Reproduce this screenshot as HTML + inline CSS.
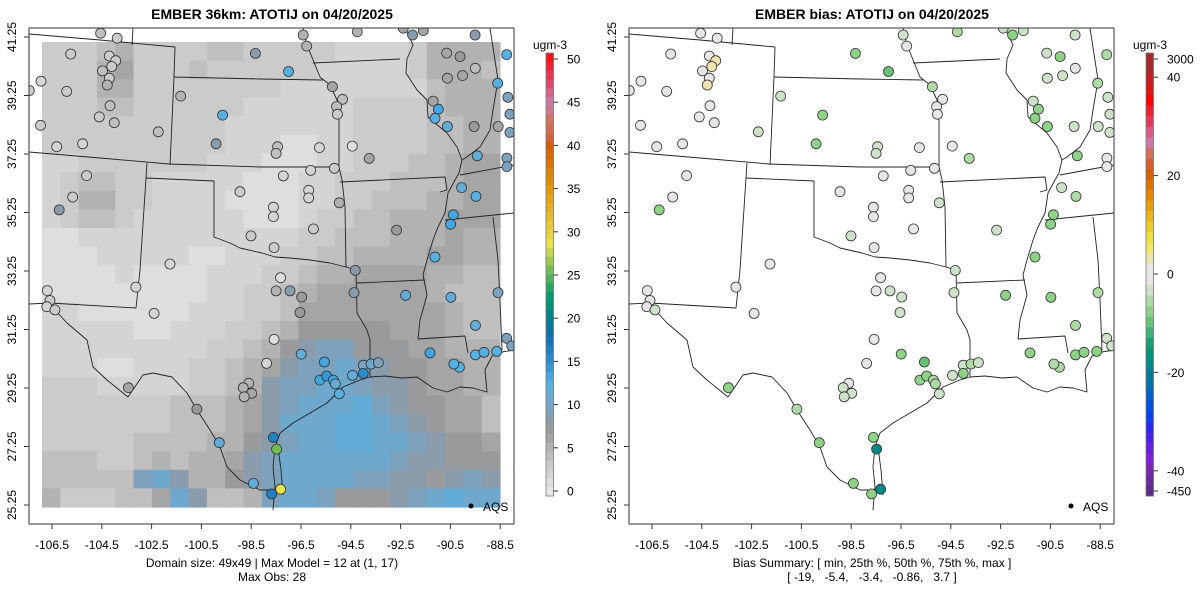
<!DOCTYPE html>
<html><head><meta charset="utf-8"><style>
html,body{margin:0;padding:0;background:#fff;}
svg{display:block;font-family:"Liberation Sans",Arial,sans-serif;}
</style></head><body>
<svg id="chart" width="1200" height="600" viewBox="0 0 1200 600" xmlns="http://www.w3.org/2000/svg">
<defs>
<clipPath id="clipL"><rect x="29" y="28" width="485" height="496"/></clipPath>
<clipPath id="clipR"><rect x="629" y="28" width="485" height="496"/></clipPath>
</defs>
</svg>
<script>
// ---------- DATA ----------
const latTicks = [25.25, 27.25, 29.25, 31.25, 33.25, 35.25, 37.25, 39.25, 41.25];
const lonTicks = [-106.5, -104.5, -102.5, -100.5, -98.5, -96.5, -94.5, -92.5, -90.5, -88.5];
const obsTickVals = [0, 5, 10, 15, 20, 25, 30, 35, 40, 45, 50];
const biasTickVals = [3000, 40, 20, 0, -20, -40, -450];
// model field (hex digit = ugm-3), coarse rows north->south
const modelGrid = [
"3334533334433333222235555",
"3335633343333332222235554",
"3335533333333222222224555",
"3334433333322222233334555",
"3333333333222222233334455",
"3333333333222112233334455",
"2233333332221112233344566",
"2344332222211122333444566",
"2355332222111122334445566",
"2344322222211123344555666",
"1122222222222233444555655",
"1112222211222334455556655",
"1111211112223345566665544",
"1111111112233456666665444",
"2211111122233466666666544",
"2222211222334577777666544",
"2222222223345789977766555",
"2221122233456899a98776655",
"333222223345899aa98876655",
"33333334445689aaab9877664",
"3333333444568aaabba987664",
"33333444455789aabbaa98776",
"4443345455689aaaaaa988777",
"444449a855789aaaa99887898",
"5333446a84459aa977789abaa"
];
const siteLon = [-104.55,-103.88,-105.75,-104.20,-103.94,-104.10,-104.47,-104.20,-104.28,-106.94,-107.41,-105.91,-104.17,-104.60,-104.00,-106.96,-102.23,-106.31,-105.27,-105.11,-105.67,-106.21,-106.69,-106.58,-106.71,-106.38,-103.13,-102.40,-101.76,-103.43,-100.68,-99.78,-98.41,-97.68,-97.32,-97.48,-97.61,-101.33,-99.65,-99.91,-98.33,-97.00,-97.44,-97.50,-95.76,-98.95,-97.21,-96.11,-96.19,-96.19,-97.61,-97.61,-98.51,-97.58,-96.00,-94.96,-95.16,-96.41,-96.27,-95.24,-94.83,-95.07,-95.04,-94.24,-92.39,-92.02,-91.59,-89.51,-90.65,-90.11,-88.24,-90.62,-90.01,-89.50,-88.60,-88.19,-91.19,-90.98,-91.12,-90.62,-89.55,-88.58,-88.11,-88.11,-94.44,-93.76,-89.42,-88.23,-88.23,-90.05,-89.47,-90.38,-90.49,-92.66,-94.32,-94.37,-92.30,-90.48,-88.59,-89.49,-91.12,-91.32,-90.14,-90.36,-89.49,-89.15,-88.64,-88.24,-88.04,-97.32,-97.50,-96.94,-96.47,-96.54,-97.58,-96.49,-95.56,-97.88,-98.60,-98.82,-98.48,-98.78,-94.00,-93.69,-93.39,-94.00,-94.43,-95.74,-95.47,-95.20,-95.12,-94.96];
const siteLat = [41.38,41.21,40.67,40.60,40.44,40.24,40.09,39.84,39.61,39.74,39.42,39.39,38.90,38.52,38.32,38.23,38.01,37.50,37.60,36.51,35.78,35.34,32.58,32.24,32.03,31.92,32.70,31.80,33.49,29.26,28.53,27.38,25.99,25.63,25.79,27.16,27.56,39.23,38.58,37.60,40.69,40.07,37.50,37.27,37.47,35.96,36.50,36.69,36.01,35.75,35.43,35.11,34.45,34.05,34.69,35.58,36.76,41.32,40.94,39.55,39.12,38.87,38.61,41.43,41.55,41.32,41.47,41.32,40.70,40.58,40.65,39.84,39.93,40.18,39.67,39.19,39.06,38.78,38.47,38.19,38.19,38.19,38.61,37.99,37.52,37.10,37.19,37.11,36.82,36.10,35.80,35.17,34.85,34.65,33.27,32.51,32.42,32.35,32.51,31.39,33.73,30.45,29.96,30.07,30.38,30.47,30.50,30.95,30.69,33.02,32.57,32.57,32.36,31.83,30.91,30.41,30.14,30.09,29.41,29.26,29.07,28.95,30.03,30.07,30.12,29.75,29.68,29.52,29.66,29.52,29.39,29.05];
const siteObs = [4,3,3,3,3,3,4,3,5,2,3,3,4,3,4,3,4,2,2,3,3,8,2,3,2,3,2,2,2,6,7,11,11,16,28,25,16,5,12,8,8,12,4,4,2,3,2,2,2,2,2,2,3,3,3,5,3,5,5,6,4,4,3,5,6,8,6,8,6,7,12,6,6,4,12,9,6,13,12,11,7,6,9,9,1,6,11,9,9,11,12,13,13,7,8,8,11,11,9,11,12,13,12,12,12,12,12,9,9,1,5,8,7,7,1,11,13,2,5,5,6,5,9,10,9,15,11,13,14,13,11,12];
const siteBias = [-0.5,-0.6,-0.4,-0.5,2.2,2.5,-0.5,2.0,3.7,-0.4,-0.5,-0.6,-0.5,-0.4,-0.5,-0.5,-2.4,-0.5,-0.6,-0.5,2.0,-7.0,-0.5,-0.6,-0.4,-2.6,-0.5,-0.4,-0.5,-7.2,-4.6,-7.5,-7.3,-7.0,-19,-19,-7.4,-2.5,-7.1,-7.2,-7.3,-10.5,-2.4,-2.6,-0.5,-0.6,-0.5,-0.4,-0.5,-0.5,-0.6,-0.5,-2.4,-0.5,-0.6,-2.5,-0.4,-2.4,-0.5,-4.6,-0.5,-0.6,-0.5,-4.5,-2.5,-7.0,-2.6,-2.5,-2.4,-7.1,-4.5,-2.5,-2.6,-0.5,-4.6,-2.4,-2.5,-7.2,-7.1,-7.0,-2.5,-2.4,-2.6,-2.5,-0.5,-4.6,-7.0,-0.5,-0.6,-2.5,-4.5,-7.1,-7.0,-2.4,-2.5,-2.6,-7.2,-7.3,-4.6,-4.5,-7.1,-7.5,-4.6,-4.4,-7.0,-7.1,-7.0,-2.5,-2.4,-0.5,-0.6,-2.5,-2.6,-2.4,-0.5,-7.3,-10.2,-0.6,-0.5,-2.4,-2.6,-2.5,-2.4,-4.6,-2.5,-7.2,-2.6,-7.0,-7.3,-4.5,-4.6,-2.5];

// ---------- SCALES ----------
const PX = [0, 600];
const xLon = lon => 52 + (lon + 106.5) * 24.9;
const yLat = lat => 505 - (lat - 25.25) * 29.25;
const cellX = j => 42 + j * 18.32;
const cellY = i => 42 + i * 18.6;
const obsBar = ['#e6e6e6','#dedede','#d4d4d4','#cbcbcb','#bfbfbf','#b2b2b2','#a5a5a5','#989a9c','#8a9cac','#7ca2bd','#6ea8cc','#62acd8','#56b0e2','#44a6e0','#3498d6','#2a8cce','#1f80c4','#1574b8','#0a72a4','#047a96','#008488','#008f7a','#009b6e','#22a862','#4cb45a','#72c054','#9ccb4e','#c8d84a','#ece444','#ecd43a','#eac832','#e9bc28','#e8b020','#e6a414','#e49a08','#e08e00','#dc8200','#da7600','#d86a00','#d66000','#d6623a','#d66c4c','#d2745e','#ce7890','#cc79a7','#d8608c','#e04870','#e83452','#f02030','#fa1010'];
const biasBar = ['#a52a2a','#a52a2a','#c81e1e','#dc1414','#ff0000','#f01e2d','#e6375a','#dc5a82','#cc79a7','#d4705a','#d65f2f','#d55e00','#dd7100','#e38800','#e69f00','#ebb51c','#eecc2e','#f0e040','#f0e866','#eee4b0','#e6e6e6','#e6e6e6','#cde2c9','#aedaa6','#8ed287','#66c277','#3fb278','#17a06f','#00957a','#008a86','#007a96','#0070b0','#0060c8','#0050e0','#0a3cf0','#2a28f0','#4a20e8','#6a20e0','#8020d8','#7a26b0','#6a2a9a','#5e2a88'];
const obsColor = v => obsBar[Math.max(0, Math.min(49, Math.round(v)))];
const obsTickY = v => 491 - v * 8.64;
const biasTickY = v => v > 40 ? 59 : (v < -40 ? 491 : 274 - v * 4.92);
function biasColor(v) {
  const y = biasTickY(v);
  const idx = Math.max(0, Math.min(biasBar.length - 1, Math.floor((y - 53) / (443 / biasBar.length))));
  return biasBar[idx];
}

// ---------- BORDERS (map geometry, left-panel pixels) ----------
const borders = [
 [[29,34],[100,40],[175,47]],[[133,28],[132,45]],[[175,47],[174,77],[170,165]],
 [[174,77],[260,79],[323,80]],[[29,152],[100,158],[169,164],[260,167],[339,167]],
 [[147,163],[146,178],[140,270],[136,308]],[[136,308],[50,303],[29,304]],
 [[146,178],[214,181],[214,237],[230,243],[240,248],[262,253],[275,257],[290,258],[310,260],[330,263],[346,267]],
 [[303,28],[307,45],[320,77],[330,85],[337,100],[339,117],[339,167],[342,180],[345,207],[346,267],[356,270],[357,313],[367,330],[370,340],[370,377]],
 [[313,63],[400,59]],
 [[405,28],[413,45],[407,59],[406,73],[417,90],[427,100],[428,117],[435,123],[447,133],[457,147],[462,160],[459,173],[455,180],[448,193],[445,213],[438,227],[433,240],[427,260],[423,275],[427,295],[420,320],[418,339]],
 [[357,283],[425,280]],[[418,339],[465,336],[468,353]],[[340,182],[445,177],[447,190],[440,192]],
 [[445,220],[514,213]],[[460,175],[514,165]],
 [[490,28],[498,80],[493,110],[490,130],[480,147],[467,157],[462,160]],
 [[493,217],[498,260],[500,300],[502,350]],
 [[370,377],[360,380],[343,387],[337,393],[327,403],[310,413],[293,423],[280,433],[275,447],[273,467],[275,487],[273,510]],
 [[278,447],[281,470],[283,495]],
 [[370,377],[385,376],[402,378],[417,377],[433,388],[447,392],[460,387],[473,388],[487,392],[485,370],[492,356],[502,352],[514,350]],
 [[50,303],[57,312],[67,323],[87,340],[93,367],[107,380],[128,397],[143,375],[153,373],[172,377],[187,393],[197,410],[210,430],[220,447],[227,467],[240,480],[260,490],[277,490]]
];

// ---------- DRAW ----------
const NS = 'http://www.w3.org/2000/svg';
const svg = document.getElementById('chart');
function mk(tag, attrs, parent) {
  const e = document.createElementNS(NS, tag);
  for (const k in attrs) e.setAttribute(k, attrs[k]);
  (parent || svg).appendChild(e);
  return e;
}
function txt(s, attrs, parent) { const t = mk('text', attrs, parent); t.textContent = s; return t; }

[0, 1].forEach(p => {
  const ox = PX[p];
  const panel = mk('g', {});
  
  

  const title = txt(p ? 'EMBER bias: ATOTIJ on 04/20/2025' : 'EMBER 36km: ATOTIJ on 04/20/2025',
    {x: 272 + ox, y: 19, 'text-anchor': 'middle', 'font-size': 14, 'font-weight': 'bold', fill: '#000'}, panel);
  
  

  const inner = mk('g', {'clip-path': p ? 'url(#clipR)' : 'url(#clipL)'}, panel);
  if (!p) {
    const grid = mk('g', {}, inner);
    
    
    modelGrid.forEach((row, i) => {
      for (let j = 0; j < row.length; j++) {
        const v = parseInt(row[j], 16);
        const c = mk('rect', {x: cellX(j).toFixed(2), y: cellY(i).toFixed(2), width: 18.9, height: 19.2, fill: obsColor(v)}, grid);
        
        
      }
    });
  }
  const bg = mk('g', {fill: 'none', stroke: '#222', 'stroke-width': 0.9, 'stroke-linejoin': 'round'}, inner);
  
  
  borders.forEach(b => {
    const l = mk('polyline', {points: b.map(q => (q[0] + ox) + ',' + q[1]).join(' ')}, bg);
    
    
  });
  const sites = mk('g', {}, inner);
  
  
  for (let k = 0; k < siteLon.length; k++) {
    const col = p ? biasColor(siteBias[k]) : obsColor(siteObs[k]);
    const d = mk('circle', {cx: (xLon(siteLon[k]) + ox).toFixed(1), cy: yLat(siteLat[k]).toFixed(1), r: 5, fill: col, stroke: '#333', 'stroke-width': 0.8}, sites);
    
    
  }
  const lg = mk('g', {}, panel);
  
  
  mk('circle', {cx: 471 + ox, cy: 506, r: 2.5, fill: '#000'}, lg);
  txt('AQS', {x: 483 + ox, y: 511, 'font-size': 12}, lg);

  const fr = mk('rect', {x: 29 + ox, y: 28, width: 485, height: 496, fill: 'none', stroke: '#333', 'stroke-width': 1}, panel);
  
  

  const ya = mk('g', {'font-size': 12, fill: '#000'}, panel);
  
  
  latTicks.forEach(t => {
    const y = yLat(t);
    mk('line', {x1: 24 + ox, x2: 29 + ox, y1: y, y2: y, stroke: '#333'}, ya);
    const lb = txt(t.toFixed(2), {x: 0, y: 0, 'text-anchor': 'middle', transform: `translate(${16 + ox},${y}) rotate(-90)`}, ya);
    
    
  });
  const xa = mk('g', {'font-size': 12, fill: '#000'}, panel);
  
  
  lonTicks.forEach(t => {
    const x = xLon(t) + ox;
    mk('line', {x1: x, x2: x, y1: 524, y2: 529, stroke: '#333'}, xa);
    const lb = txt(String(t), {x: x, y: 549, 'text-anchor': 'middle'}, xa);
    
    
  });

  const cb = mk('g', {}, panel);
  
  
  txt('ugm-3', {x: 550 + ox, y: 49, 'text-anchor': 'middle', 'font-size': 12}, cb);
  const bar = p ? biasBar : obsBar;
  const h = 443 / bar.length;
  bar.forEach((c, i) => {
    const idx = p ? i : bar.length - 1 - i;
    mk('rect', {x: 546 + ox, y: (53 + i * h).toFixed(2), width: 7.5, height: (h + 0.4).toFixed(2), fill: bar[idx]}, cb);
  });
  mk('rect', {x: 546 + ox, y: 53, width: 7.5, height: 443, fill: 'none', stroke: '#777', 'stroke-width': 0.8}, cb);
  const tv = p ? biasTickVals : obsTickVals;
  tv.forEach(v => {
    const y = p ? biasTickY(v) : obsTickY(v);
    mk('line', {x1: 553.5 + ox, x2: 558 + ox, y1: y, y2: y, stroke: '#333'}, cb);
    const lb = txt(String(v), {x: 567 + ox, y: y + 4.5, 'font-size': 12}, cb);
    
    
  });

  const cap = mk('g', {'font-size': 12, 'text-anchor': 'middle'}, panel);
  
  
  if (p) {
    txt('Bias Summary: [ min, 25th %, 50th %, 75th %, max ]', {x: 872, y: 567}, cap);
    txt('[ -19,   -5.4,   -3.4,   -0.86,   3.7 ]', {x: 872, y: 581}, cap).style.whiteSpace = 'pre';
  } else {
    txt('Domain size: 49x49 | Max Model = 12 at (1, 17)', {x: 272, y: 567}, cap);
    txt('Max Obs: 28', {x: 272, y: 581}, cap);
  }
});
</script>
</body></html>
